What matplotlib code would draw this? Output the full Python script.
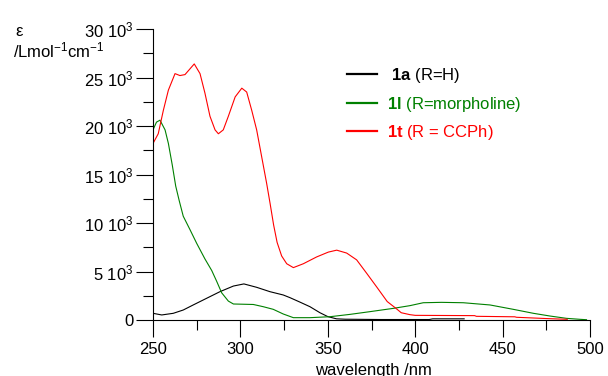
import matplotlib
matplotlib.use('Agg')
import matplotlib.pyplot as plt
from matplotlib.ticker import MultipleLocator

plt.rcParams['font.family'] = ['Liberation Sans', 'DejaVu Sans']
plt.rcParams['mathtext.fontset'] = 'custom'
plt.rcParams['mathtext.rm'] = 'Liberation Sans'
plt.rcParams['mathtext.it'] = 'Liberation Sans:italic'
plt.rcParams['mathtext.bf'] = 'Liberation Sans:bold'

# 1a (R=H)  -- eps in 10^3 L/mol/cm
wl_1a = [250, 255, 261.6, 267.3, 273, 280.7, 288.3, 296, 302, 309.3, 316.9, 324.5,
         328.4, 334, 339.8, 345.5, 350, 355, 360, 380, 408, 410, 428]
eps_1a = [0.69, 0.52, 0.69, 1.03, 1.55, 2.24, 2.92, 3.5, 3.72, 3.37, 2.92, 2.58,
          2.3, 1.85, 1.37, 0.75, 0.35, 0.12, 0.08, 0.05, 0.05, 0.12, 0.12]

# 1l (R=morpholine)
wl_1l = [250, 252, 254, 256.9, 258.8, 261, 263, 265, 267.3, 271.2, 275, 279.7,
         283.6, 286.4, 289.3, 293.1, 296, 307.4, 313.1, 318.8, 324.5, 330.3, 339.8,
         351.3, 362.7, 374.1, 387.5, 397, 404.6, 415, 427.5, 442.8, 456.1, 467.6,
         477.1, 486.6, 494.3, 498]
eps_1l = [19.6, 20.4, 20.6, 19.6, 18.2, 16.0, 13.8, 12.3, 10.7, 9.3, 7.9, 6.3,
          5.1, 4.0, 2.8, 1.95, 1.65, 1.6, 1.37, 1.1, 0.62, 0.24, 0.24,
          0.34, 0.58, 0.86, 1.2, 1.48, 1.78, 1.82, 1.78, 1.55, 1.1, 0.69,
          0.41, 0.17, 0.07, 0.03]

# 1t (R = CCPh)
wl_1t = [250, 253, 255.9, 258.8, 262.6, 265.4, 268.3, 271.2, 273.6, 276.9, 279.7,
         282.6, 285.5, 287.4, 290.2, 293.1, 297, 300.8, 303.6, 306.5, 309.3, 312.2,
         315, 317, 319, 321, 323.6, 326.5, 330.3, 336, 343.6, 350.3, 355.1, 360.8,
         366.5, 372.3, 378, 384, 389, 392, 397, 400, 434, 435, 457, 458, 475, 487]
eps_1t = [18.2, 19.2, 21.6, 23.7, 25.4, 25.2, 25.3, 25.9, 26.4, 25.4, 23.4,
          21.0, 19.6, 19.2, 19.6, 21.0, 23.0, 23.9, 23.5, 21.6, 19.6, 16.8,
          14.1, 12.0, 9.8, 8.0, 6.6, 5.8, 5.4, 5.8, 6.5, 7.0, 7.2, 6.9,
          6.2, 4.8, 3.4, 1.9, 1.2, 0.75, 0.55, 0.48, 0.45, 0.38, 0.33, 0.28, 0.15, 0.07]

y_ticks = [0, 5, 10, 15, 20, 25, 30]
y_labels = ['0'] + ['%d 10$^3$' % v for v in y_ticks[1:]]
x_ticks = [250, 300, 350, 400, 450, 500]

series = [
    (wl_1a, eps_1a, 'black', r' $\mathbf{1a}$ (R=H)'),
    (wl_1l, eps_1l, '#008000', r'$\mathbf{1l}$ (R=morpholine)'),
    (wl_1t, eps_1t, '#ff0000', r'$\mathbf{1t}$ (R = CCPh)'),
]

fig = plt.figure(figsize=(6.08, 3.76), dpi=100)
ax = fig.add_axes([153/608, 1-320/376, 437/608, 291/376])

lines = []
for wl, eps, col, lab in series:
    ln, = ax.plot(wl, [e*1000 for e in eps], color=col, lw=0.8, label=lab)
    lines.append(ln)

ax.set_xlim(250, 500)
ax.set_ylim(0, 30000)
ax.spines['top'].set_visible(False)
ax.spines['right'].set_visible(False)
for s in ['left', 'bottom']:
    ax.spines[s].set_linewidth(0.8)

ax.set_xticks(x_ticks)
ax.set_xticklabels([str(v) for v in x_ticks])
ax.xaxis.set_minor_locator(MultipleLocator(25))
ax.set_yticks([v*1000 for v in y_ticks])
ax.set_yticklabels(y_labels)
ax.yaxis.set_minor_locator(MultipleLocator(2500))
ax.tick_params(which='major', direction='out', length=12, width=0.8, labelsize=12)
ax.tick_params(axis='x', which='major', pad=4)
ax.tick_params(axis='y', which='major', pad=2)
ax.tick_params(which='minor', direction='out', length=7, width=0.8)

ax.set_xlabel('wavelength /nm', fontsize=12)
ax.xaxis.set_label_coords(0.505, -0.148)
ax.xaxis.label.set_va('top')

fig.text(15/608, 1-36/376, 'ε', fontsize=12, va='baseline', ha='left')
fig.text(13/608, 1-57/376, r'/Lmol$^{-1}$cm$^{-1}$', fontsize=12, va='baseline', ha='left')

leg = ax.legend(loc='upper left', bbox_to_anchor=(339/608, 1-58/376),
                bbox_transform=fig.transFigure, frameon=False, borderpad=0,
                handlelength=1.8, handletextpad=0.6, labelspacing=0.55, fontsize=12)
for txt, (wl, eps, col, lab) in zip(leg.get_texts(), series):
    txt.set_color(col)
for h in leg.legend_handles:
    h.set_linewidth(1.6)

fig.savefig('out.png', dpi=100)
